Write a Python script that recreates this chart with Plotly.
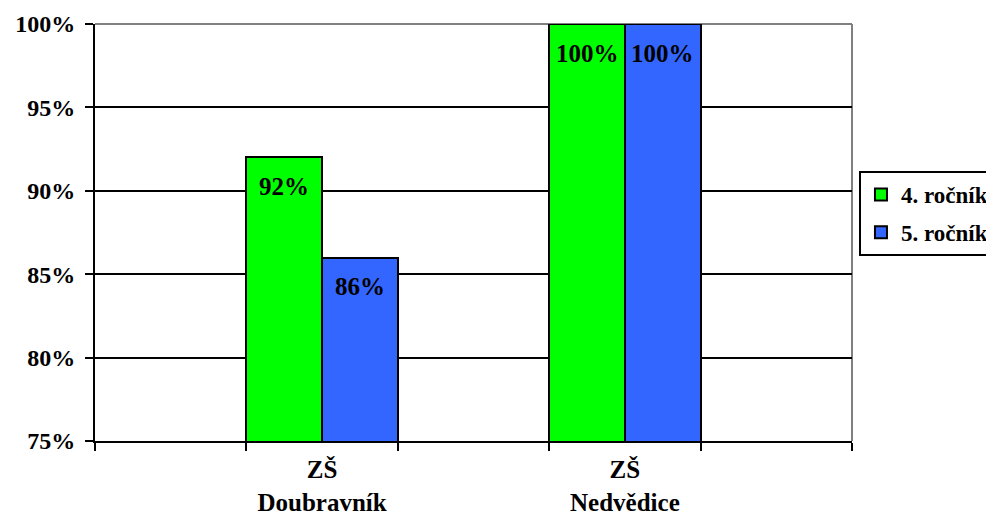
import plotly.graph_objects as go

schools = ["ZŠ<br>Doubravník", "ZŠ<br>Nedvědice"]
slots = [" ", schools[0], "  ", schools[1], "   "]
series_names = ["4. ročník", "5. ročník"]
values_4 = [0.92, 1.00]
values_5 = [0.86, 1.00]
colors = ["#00FF00", "#3366FF"]
y_ticks = [0.75, 0.80, 0.85, 0.90, 0.95, 1.00]

FONT = "Liberation Serif"

fig = go.Figure()
for i, (name, vals, col) in enumerate(zip(series_names, [values_4, values_5], colors)):
    fig.add_trace(go.Bar(
        x=schools, y=vals, name=name, legendgroup=name,
        marker=dict(color=col, line=dict(color="black", width=2)),
    ))

annotations = []
for i, vals in enumerate([values_4, values_5]):
    off = -0.25 if i == 0 else 0.25
    for s, v in zip(schools, vals):
        annotations.append(dict(
            x=slots.index(s) + off, y=v, xref="x", yref="y",
            text=f"<b>{v*100:.0f}%</b>", showarrow=False, yshift=-29,
            font=dict(family=FONT, size=25, color="black"),
        ))

fig.update_layout(
    width=994, height=519,
    margin=dict(l=87, r=150, t=16, b=86, autoexpand=False),
    paper_bgcolor="white", plot_bgcolor="white",
    barmode="group", bargap=0, bargroupgap=0,
    font=dict(family=FONT, size=24, color="black", weight="bold"),
    legend=dict(
        x=1.0092, y=0.6475, xanchor="left", yanchor="top",
        bordercolor="black", borderwidth=2,
        font=dict(family=FONT, size=23, color="black", weight="bold"),
        traceorder="grouped", tracegroupgap=5,
    ),
    annotations=annotations,
    shapes=[
        dict(type="line", xref="paper", yref="paper", x0=0, x1=1, y0=1, y1=1,
             line=dict(color="#808080", width=2), layer="below"),
        dict(type="line", xref="paper", yref="paper", x0=1, x1=1, y0=0, y1=1,
             line=dict(color="#808080", width=2), layer="below"),
    ],
)
fig.update_xaxes(
    type="category", categoryorder="array", categoryarray=slots,
    range=[-0.5, 4.5], automargin=False,
    showline=True, linecolor="black", linewidth=2,
    ticks="outside", tickson="boundaries", ticklen=8, tickwidth=2, tickcolor="black",
    showgrid=False,
    tickfont=dict(family=FONT, size=25, color="black", weight="bold"),
    ticklabelstandoff=5,
)
fig.update_yaxes(
    range=[0.75, 1.0], tickvals=y_ticks, tickformat=".0%", automargin=False,
    showline=True, linecolor="black", linewidth=2,
    ticks="outside", ticklen=8, tickwidth=2, tickcolor="black",
    showgrid=True, gridcolor="black", gridwidth=2, zeroline=False,
    tickfont=dict(family=FONT, size=24, color="black", weight="bold"),
    ticklabelstandoff=5,
)

fig.write_html("out.html")
